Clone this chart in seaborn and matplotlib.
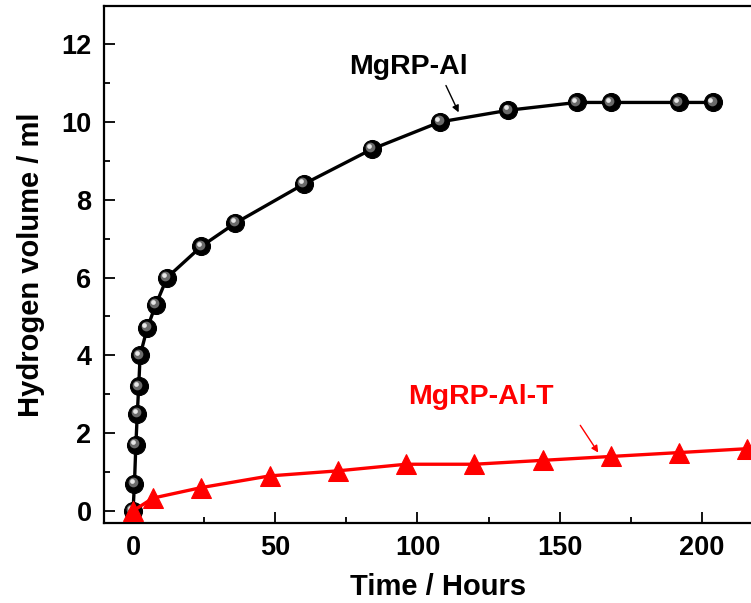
import matplotlib
matplotlib.use("Agg")
import matplotlib.pyplot as plt
import matplotlib.transforms as mtransforms
from matplotlib.ticker import MultipleLocator
import seaborn as sns
import pandas as pd

# ---- data ----
t_al = [0, 0.5, 1, 1.5, 2, 2.5, 5, 8, 12, 24, 36, 60, 84, 108, 132, 156, 168, 192, 204]
v_al = [0.0, 0.7, 1.7, 2.5, 3.2, 4.0, 4.7, 5.3, 6.0, 6.8, 7.4, 8.4, 9.3, 10.0, 10.3, 10.5, 10.5, 10.5, 10.5]
t_alt = [0, 7, 24, 48, 72, 96, 120, 144, 168, 192, 216]
v_alt = [0.0, 0.33, 0.6, 0.9, 1.03, 1.2, 1.2, 1.3, 1.4, 1.5, 1.6]
x_ticks = [0, 50, 100, 150, 200]
y_ticks = [0, 2, 4, 6, 8, 10, 12]
label_al = "MgRP-Al"
label_alt = "MgRP-Al-T"
xlabel = "Time / Hours"
ylabel = "Hydrogen volume / ml"

df_al = pd.DataFrame({"t": t_al, "v": v_al})
df_alt = pd.DataFrame({"t": t_alt, "v": v_alt})

sns.set_theme(style="ticks")
plt.rcParams["font.family"] = ["Liberation Sans", "DejaVu Sans"]
plt.rcParams["font.weight"] = "bold"
plt.rcParams["text.color"] = "black"
plt.rcParams["axes.labelcolor"] = "black"

fig = plt.figure(figsize=(7.51, 6.03), dpi=100)
ax = fig.add_axes([0.1385, 0.1327, 0.8908, 0.8574])

sns.lineplot(data=df_al, x="t", y="v", ax=ax, color="black", linewidth=2.4,
             marker="o", markersize=13, markeredgecolor="black",
             markerfacecolor="black", zorder=3)
# sphere highlight
hl1 = mtransforms.offset_copy(ax.transData, fig=fig, x=-1.2, y=1.2, units="points")
hl2 = mtransforms.offset_copy(ax.transData, fig=fig, x=-2.0, y=2.0, units="points")
ax.plot(t_al, v_al, linestyle="none", marker="o", markersize=7,
        color="#6a6a6a", markeredgewidth=0, transform=hl1, zorder=4)
ax.plot(t_al, v_al, linestyle="none", marker="o", markersize=3.4,
        color="#e6e6e6", markeredgewidth=0, transform=hl2, zorder=5)

sns.lineplot(data=df_alt, x="t", y="v", ax=ax, color="#ff0000", linewidth=2.4,
             marker="^", markersize=14, markeredgecolor="#ff0000",
             markerfacecolor="#ff0000", zorder=6)

ax.set_xlim(-10.2, 225)
ax.set_ylim(-0.31, 12.98)
ax.set_xticks(x_ticks)
ax.set_yticks(y_ticks)
ax.xaxis.set_minor_locator(MultipleLocator(25))
ax.yaxis.set_minor_locator(MultipleLocator(1))
ax.tick_params(which="major", direction="in", length=8, width=1.3,
               labelsize=19.5, pad=9, colors="black")
ax.tick_params(which="minor", direction="in", length=4, width=1.3, colors="black")
for lab in ax.get_xticklabels() + ax.get_yticklabels():
    lab.set_fontweight("bold")
for s in ax.spines.values():
    s.set_linewidth(1.6)
    s.set_color("black")
    s.set_visible(True)

ax.set_xlabel(xlabel, fontsize=21, fontweight="bold", labelpad=8, color="black")
ax.set_ylabel(ylabel, fontsize=21, fontweight="bold", labelpad=12, color="black")

ax.text(97.0, 11.41, label_al, fontsize=20.5, fontweight="bold", color="black",
        ha="center", va="center")
ax.annotate("", xy=(114.9, 10.18), xytext=(109.6, 11.0),
            arrowprops=dict(arrowstyle="-|>", color="black", lw=1.0, mutation_scale=10))
ax.text(122.3, 2.93, label_alt, fontsize=20.5, fontweight="bold", color="#ff0000",
        ha="center", va="center")
ax.annotate("", xy=(164.1, 1.44), xytext=(156.7, 2.26),
            arrowprops=dict(arrowstyle="-|>", color="#ff0000", lw=1.0, mutation_scale=10))

fig.savefig("out.png", dpi=100)
